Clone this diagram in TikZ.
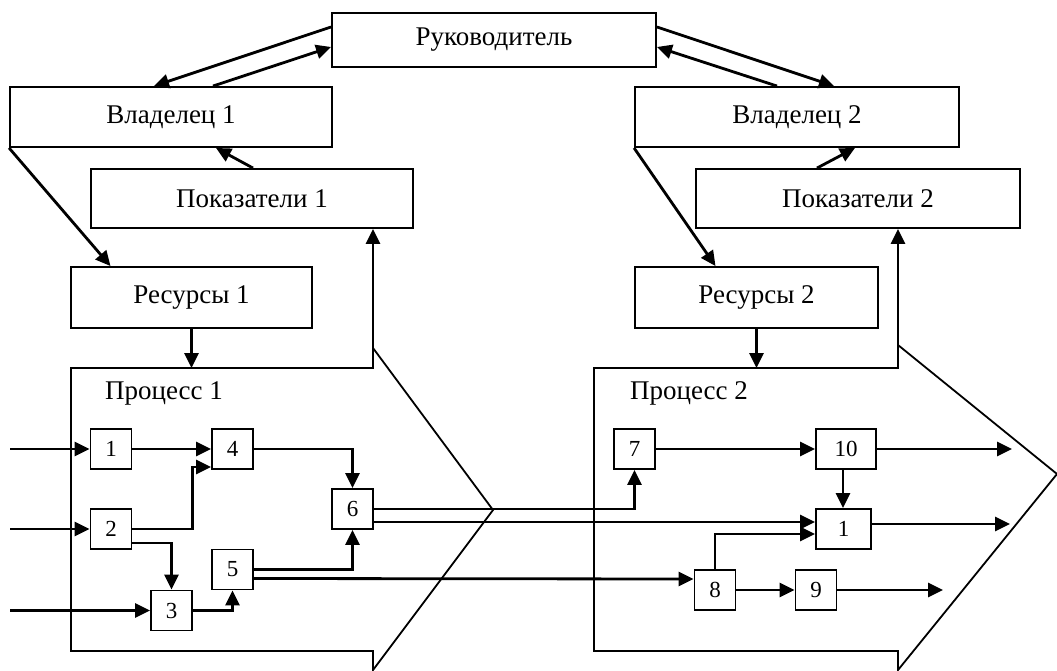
\documentclass[tikz,border=0pt]{standalone}
\usepackage{fontspec}
\setmainfont{Liberation Serif}
\usepackage{tikz}
\usetikzlibrary{arrows.meta}
\tikzset{
	blk/.style 2 args={draw,line width=1.9pt,minimum width=#1,minimum height=#2,inner sep=0pt,font=\fontsize{27}{32}\selectfont},
	num/.style={draw,line width=1.9pt,minimum width=#1,minimum height=40pt,inner sep=0pt,font=\fontsize{23}{27}\selectfont},
	num/.default=41pt,
	lbl/.style={inner sep=0pt,font=\fontsize{27}{32}\selectfont},
	arr/.style={line width=2.8pt,-{Triangle[length=15pt,width=14pt]}},
	chev/.style={line width=1.8pt,line join=miter}
}

\begin{document}
\begin{tikzpicture}[x=1pt,y=-1pt]
						\useasboundingbox (0,0) rectangle (1057,671);
						
						\node [blk={324pt}{54pt}] (ruk) at (494,40) {Руководитель};
						\node [blk={322pt}{60pt}] (vl1) at (171,117) {Владелец 1};
						\node [blk={322pt}{59pt}] (pk1) at (252,198.5) {Показатели 1};
						\node [blk={241pt}{61pt}] (rs1) at (191.5,297.5) {Ресурсы 1};
						\node [blk={324pt}{60pt}] (vl2) at (797,117) {Владелец 2};
						\node [blk={324pt}{59pt}] (pk2) at (858,198.5) {Показатели 2};
						\node [blk={243pt}{61pt}] (rs2) at (756.5,297.5) {Ресурсы 2};
						
						\draw [chev] (71,368) coordinate (p1nw) -- (373,368) -- (373,348) coordinate (p1c) -- (493,510) -- (373,670) -- (373,651) -- (71,651) -- cycle;
						\draw [chev] (594,368) coordinate (p2nw) -- (898,368) -- (898,345) coordinate (p2c) -- (1057,474) -- (898,670) -- (898,651) -- (594,651) -- cycle;
						\node [lbl] (pr1) at (164,393) {Процесс 1};
						\node [lbl] (pr2) at (689,393) {Процесс 2};
						
						\node [num] (b1) at (111,449) {1};
						\node [num] (b2) at (111,529) {2};
						\node [num] (b3) at (171.5,610.5) {3};
						\node [num] (b4) at (232.5,449) {4};
						\node [num] (b5) at (232.5,569.5) {5};
						\node [num] (b6) at (352.5,509) {6};
						\node [num] (b7) at (634.5,449) {7};
						\node [num=60pt] (b10) at (846,449) {10};
						\node [num=55pt] (b11) at (843.5,529) {1};
						\node [num] (b8) at (715,590) {8};
						\node [num] (b9) at (816,590) {9};
						
						\coordinate (in1) at (10,449);
						\coordinate (in2) at (10,529);
						\coordinate (in3) at (10,610.5);
						\coordinate (out1) at (1012,449);
						\coordinate (out2) at (1010,524);
						\coordinate (out3) at (943,590);
						
						\draw [arr] ([yshift=13pt]ruk.west) -- ([xshift=-17pt]vl1.north);
						\draw [arr] ([xshift=42pt]vl1.north) -- ([yshift=-7pt]ruk.west);
						\draw [arr] ([yshift=13pt]ruk.east) -- ([xshift=37pt]vl2.north);
						\draw [arr] ([xshift=-20pt]vl2.north) -- ([yshift=-7pt]ruk.east);
						\draw [arr] ([xshift=1pt]pk1.north) -- ([xshift=45pt]vl1.south);
						\draw [arr] ([xshift=-41pt]pk2.north) -- ([xshift=58pt]vl2.south);
						\draw [arr] (vl1.south west) -- ([xshift=-81pt]rs1.north);
						\draw [arr] (vl2.south west) -- ([xshift=-41pt]rs2.north);
						\draw [arr] (rs1.south) -- (rs1.south |- p1nw);
						\draw [arr] (rs2.south) -- (rs2.south |- p2nw);
						\draw [arr] (p1c) -- (p1c |- pk1.south);
						\draw [arr] (p2c) -- (p2c |- pk2.south);
						
						\draw [arr] (in1) -- (b1);
						\draw [arr] (in2) -- (b2);
						\draw [arr] (in3) -- (b3);
						\draw [arr] (b1) -- (b4);
						\draw [arr] (b2.east) -- ++(60,0) |- ([yshift=3pt]b4.south west);
						\draw [arr] ([yshift=-14pt]b2.east) -| (b3.north);
						\draw [arr] (b3.east) -| (b5.south);
						\draw [arr] (b4.east) -| (b6.north);
						\draw [arr] (b5.east) -| (b6.south);
						\draw [arr] (b6.east) -| (b7.south);
						\draw [arr] ([yshift=-13pt]b6.east) -- ([yshift=7pt]b11.west);
						\draw [arr] ([yshift=-9pt]b5.east) -- ([yshift=11pt]b8.west);
						\draw [arr] (b7) -- (b10);
						\draw [arr] ([xshift=-3pt]b10.south) -- ([xshift=-3pt]b10.south |- b11.north);
						\draw [arr] (b8.north) |- ([yshift=-5pt]b11.west);
						\draw [arr] (b8) -- (b9);
						\draw [arr] (b10.east) -- (out1);
						\draw [arr] ([yshift=5pt]b11.east) -- (out2);
						\draw [arr] (b9.east) -- (out3);
					\end{tikzpicture}
\end{document}
